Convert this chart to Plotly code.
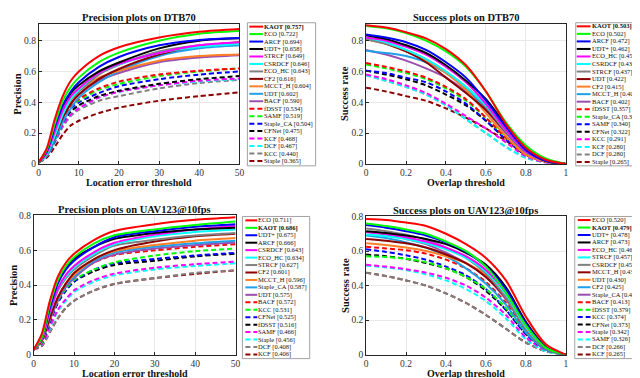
import plotly.graph_objects as go

W, H = 640, 378
SERIF = 'Liberation Serif'

# ---- data -------------------------------------------------------------
prec_thr = [0, 2, 4, 6, 8, 10, 15, 20, 30, 40, 50]
succ_thr = [0, 0.1, 0.2, 0.3, 0.4, 0.5, 0.6, 0.7, 0.8, 0.9, 1.0]

dtb_prec_names = ['KAOT', 'ECO', 'ARCF', 'UDT+', 'STRCF', 'CSRDCF', 'ECO_HC', 'CF2', 'MCCT_H', 'UDT', 'BACF',
                  'fDSST', 'SAMF', 'Staple_CA', 'CFNet', 'KCF', 'DCF', 'KCC', 'Staple']
dtb_prec_scores = [0.757, 0.722, 0.694, 0.658, 0.649, 0.646, 0.643, 0.616, 0.604, 0.602, 0.590,
                   0.534, 0.519, 0.504, 0.475, 0.468, 0.467, 0.440, 0.365]
dtb_prec_curves = [
    [0.01, 0.10, 0.29, 0.44, 0.54, 0.60, 0.70, 0.757, 0.82, 0.857, 0.875],
    [0.01, 0.09, 0.26, 0.41, 0.50, 0.56, 0.66, 0.722, 0.80, 0.845, 0.862],
    [0.01, 0.08, 0.24, 0.38, 0.47, 0.53, 0.63, 0.694, 0.77, 0.805, 0.818],
    [0.01, 0.09, 0.25, 0.38, 0.46, 0.51, 0.60, 0.658, 0.75, 0.800, 0.815],
    [0.01, 0.07, 0.21, 0.35, 0.44, 0.49, 0.59, 0.649, 0.72, 0.770, 0.790],
    [0.01, 0.06, 0.18, 0.32, 0.42, 0.48, 0.59, 0.646, 0.72, 0.760, 0.780],
    [0.01, 0.07, 0.20, 0.33, 0.42, 0.47, 0.58, 0.643, 0.73, 0.770, 0.785],
    [0.01, 0.06, 0.17, 0.30, 0.39, 0.45, 0.55, 0.616, 0.71, 0.765, 0.790],
    [0.01, 0.06, 0.18, 0.32, 0.41, 0.47, 0.56, 0.604, 0.67, 0.700, 0.710],
    [0.01, 0.05, 0.15, 0.27, 0.36, 0.43, 0.53, 0.602, 0.70, 0.750, 0.770],
    [0.01, 0.06, 0.17, 0.30, 0.39, 0.45, 0.54, 0.590, 0.66, 0.690, 0.705],
    [0.01, 0.06, 0.18, 0.30, 0.37, 0.42, 0.49, 0.534, 0.58, 0.605, 0.620],
    [0.01, 0.06, 0.18, 0.30, 0.37, 0.41, 0.48, 0.519, 0.57, 0.600, 0.620],
    [0.01, 0.06, 0.17, 0.29, 0.36, 0.40, 0.46, 0.504, 0.55, 0.580, 0.600],
    [0.01, 0.05, 0.15, 0.27, 0.34, 0.38, 0.44, 0.475, 0.52, 0.550, 0.570],
    [0.01, 0.05, 0.14, 0.25, 0.32, 0.36, 0.43, 0.468, 0.51, 0.540, 0.555],
    [0.01, 0.05, 0.14, 0.25, 0.32, 0.36, 0.43, 0.467, 0.51, 0.535, 0.550],
    [0.01, 0.05, 0.14, 0.24, 0.31, 0.35, 0.41, 0.440, 0.49, 0.525, 0.545],
    [0.01, 0.04, 0.11, 0.19, 0.25, 0.28, 0.33, 0.365, 0.41, 0.440, 0.465],
]

dtb_succ_names = ['KAOT', 'ECO', 'ARCF', 'UDT+', 'ECO_HC', 'CSRDCF', 'STRCF', 'UDT', 'CF2', 'MCCT_H', 'BACF',
                  'fDSST', 'Staple_CA', 'SAMF', 'CFNet', 'KCC', 'KCF', 'DCF', 'Staple']
dtb_succ_scores = [0.503, 0.502, 0.472, 0.462, 0.453, 0.438, 0.437, 0.422, 0.415, 0.405, 0.402,
                   0.357, 0.351, 0.340, 0.322, 0.291, 0.280, 0.280, 0.265]
dtb_succ_curves = [
    [0.900, 0.885, 0.855, 0.815, 0.745, 0.640, 0.470, 0.260, 0.105, 0.027, 0],
    [0.895, 0.880, 0.850, 0.800, 0.730, 0.630, 0.470, 0.270, 0.120, 0.035, 0],
    [0.840, 0.820, 0.790, 0.740, 0.660, 0.560, 0.410, 0.240, 0.090, 0.020, 0],
    [0.835, 0.810, 0.770, 0.720, 0.640, 0.540, 0.420, 0.250, 0.090, 0.020, 0],
    [0.820, 0.800, 0.760, 0.710, 0.630, 0.530, 0.390, 0.220, 0.080, 0.020, 0],
    [0.820, 0.790, 0.740, 0.680, 0.600, 0.500, 0.380, 0.220, 0.080, 0.020, 0],
    [0.810, 0.780, 0.740, 0.680, 0.600, 0.500, 0.370, 0.210, 0.080, 0.020, 0],
    [0.815, 0.780, 0.730, 0.660, 0.560, 0.460, 0.350, 0.210, 0.080, 0.020, 0],
    [0.810, 0.780, 0.730, 0.670, 0.590, 0.480, 0.330, 0.180, 0.060, 0.015, 0],
    [0.735, 0.720, 0.700, 0.660, 0.590, 0.490, 0.360, 0.210, 0.080, 0.020, 0],
    [0.740, 0.710, 0.670, 0.620, 0.560, 0.470, 0.350, 0.200, 0.070, 0.020, 0],
    [0.655, 0.630, 0.600, 0.560, 0.500, 0.420, 0.300, 0.170, 0.060, 0.015, 0],
    [0.645, 0.620, 0.590, 0.550, 0.490, 0.410, 0.300, 0.170, 0.060, 0.015, 0],
    [0.605, 0.590, 0.560, 0.530, 0.470, 0.390, 0.280, 0.160, 0.060, 0.015, 0],
    [0.605, 0.580, 0.550, 0.510, 0.450, 0.380, 0.280, 0.160, 0.060, 0.015, 0],
    [0.580, 0.550, 0.510, 0.460, 0.390, 0.310, 0.230, 0.140, 0.050, 0.010, 0],
    [0.575, 0.540, 0.500, 0.450, 0.380, 0.290, 0.200, 0.110, 0.040, 0.010, 0],
    [0.575, 0.540, 0.500, 0.450, 0.380, 0.290, 0.200, 0.110, 0.040, 0.010, 0],
    [0.495, 0.470, 0.440, 0.410, 0.360, 0.300, 0.230, 0.150, 0.060, 0.015, 0],
]

uav_prec_names = ['ECO', 'KAOT', 'UDT+', 'ARCF', 'CSRDCF', 'ECO_HC', 'STRCF', 'CF2', 'MCCT_H', 'Staple_CA', 'UDT',
                  'BACF', 'KCC', 'CFNet', 'fDSST', 'SAMF', 'Staple', 'DCF', 'KCF']
uav_prec_scores = [0.711, 0.686, 0.675, 0.666, 0.643, 0.634, 0.627, 0.601, 0.596, 0.587, 0.575,
                   0.572, 0.531, 0.525, 0.516, 0.466, 0.456, 0.408, 0.406]
uav_prec_curves = [
    [0.03, 0.12, 0.31, 0.45, 0.53, 0.58, 0.66, 0.711, 0.75, 0.775, 0.790],
    [0.03, 0.10, 0.29, 0.43, 0.51, 0.56, 0.64, 0.686, 0.72, 0.745, 0.765],
    [0.03, 0.10, 0.27, 0.41, 0.49, 0.54, 0.62, 0.675, 0.71, 0.735, 0.750],
    [0.03, 0.11, 0.28, 0.42, 0.50, 0.55, 0.62, 0.666, 0.70, 0.720, 0.730],
    [0.03, 0.09, 0.25, 0.38, 0.46, 0.51, 0.59, 0.643, 0.69, 0.720, 0.740],
    [0.03, 0.09, 0.25, 0.38, 0.45, 0.50, 0.58, 0.634, 0.68, 0.705, 0.720],
    [0.03, 0.09, 0.24, 0.37, 0.44, 0.49, 0.57, 0.627, 0.66, 0.685, 0.700],
    [0.03, 0.08, 0.21, 0.33, 0.41, 0.47, 0.55, 0.601, 0.65, 0.680, 0.695],
    [0.03, 0.08, 0.21, 0.33, 0.41, 0.46, 0.55, 0.596, 0.63, 0.655, 0.670],
    [0.03, 0.08, 0.21, 0.32, 0.40, 0.45, 0.54, 0.587, 0.62, 0.640, 0.655],
    [0.03, 0.08, 0.20, 0.31, 0.39, 0.44, 0.53, 0.575, 0.61, 0.630, 0.645],
    [0.03, 0.08, 0.21, 0.33, 0.41, 0.46, 0.53, 0.572, 0.60, 0.620, 0.635],
    [0.03, 0.07, 0.20, 0.31, 0.38, 0.43, 0.49, 0.531, 0.57, 0.595, 0.610],
    [0.03, 0.07, 0.19, 0.30, 0.37, 0.42, 0.49, 0.525, 0.55, 0.570, 0.585],
    [0.03, 0.07, 0.19, 0.30, 0.37, 0.42, 0.48, 0.516, 0.54, 0.565, 0.580],
    [0.03, 0.06, 0.16, 0.26, 0.32, 0.37, 0.43, 0.466, 0.50, 0.520, 0.535],
    [0.03, 0.06, 0.15, 0.25, 0.31, 0.36, 0.42, 0.456, 0.49, 0.510, 0.525],
    [0.03, 0.05, 0.13, 0.21, 0.27, 0.31, 0.37, 0.408, 0.44, 0.470, 0.485],
    [0.03, 0.05, 0.13, 0.21, 0.27, 0.31, 0.37, 0.406, 0.44, 0.465, 0.485],
]

uav_succ_names = ['ECO', 'KAOT', 'UDT+', 'ARCF', 'ECO_HC', 'STRCF', 'CSRDCF', 'MCCT_H', 'UDT', 'CF2', 'Staple_CA',
                  'BACF', 'fDSST', 'KCC', 'CFNet', 'Staple', 'SAMF', 'DCF', 'KCF']
uav_succ_scores = [0.520, 0.479, 0.478, 0.473, 0.462, 0.457, 0.450, 0.433, 0.430, 0.425, 0.420,
                   0.413, 0.379, 0.374, 0.373, 0.342, 0.326, 0.266, 0.265]
uav_succ_curves = [
    [0.785, 0.780, 0.765, 0.745, 0.700, 0.640, 0.560, 0.430, 0.220, 0.060, 0],
    [0.760, 0.745, 0.725, 0.700, 0.655, 0.600, 0.510, 0.360, 0.170, 0.040, 0],
    [0.750, 0.735, 0.715, 0.690, 0.650, 0.595, 0.510, 0.380, 0.180, 0.040, 0],
    [0.715, 0.705, 0.690, 0.670, 0.640, 0.590, 0.520, 0.390, 0.190, 0.045, 0],
    [0.710, 0.700, 0.680, 0.655, 0.620, 0.570, 0.490, 0.360, 0.170, 0.040, 0],
    [0.695, 0.685, 0.670, 0.645, 0.610, 0.560, 0.480, 0.350, 0.160, 0.040, 0],
    [0.730, 0.715, 0.695, 0.665, 0.620, 0.560, 0.470, 0.330, 0.150, 0.035, 0],
    [0.670, 0.660, 0.645, 0.620, 0.580, 0.530, 0.450, 0.330, 0.150, 0.035, 0],
    [0.645, 0.635, 0.620, 0.600, 0.570, 0.530, 0.460, 0.330, 0.150, 0.035, 0],
    [0.690, 0.675, 0.650, 0.620, 0.570, 0.500, 0.410, 0.290, 0.130, 0.030, 0],
    [0.710, 0.695, 0.670, 0.640, 0.590, 0.530, 0.450, 0.320, 0.150, 0.035, 0],
    [0.625, 0.615, 0.605, 0.585, 0.550, 0.500, 0.420, 0.300, 0.140, 0.035, 0],
    [0.570, 0.565, 0.555, 0.535, 0.500, 0.450, 0.380, 0.270, 0.130, 0.030, 0],
    [0.610, 0.595, 0.575, 0.550, 0.510, 0.460, 0.380, 0.260, 0.120, 0.030, 0],
    [0.580, 0.570, 0.555, 0.530, 0.500, 0.450, 0.370, 0.260, 0.120, 0.030, 0],
    [0.520, 0.510, 0.495, 0.475, 0.445, 0.400, 0.330, 0.230, 0.100, 0.025, 0],
    [0.515, 0.505, 0.490, 0.465, 0.430, 0.380, 0.310, 0.210, 0.090, 0.020, 0],
    [0.475, 0.455, 0.430, 0.400, 0.355, 0.300, 0.230, 0.150, 0.070, 0.020, 0],
    [0.475, 0.455, 0.430, 0.400, 0.355, 0.300, 0.230, 0.150, 0.070, 0.020, 0],
]

# ---- styles (same order for every panel) -------------------------------
line_colors = ['#FF0000', '#00FF00', '#0000FF', '#000000', '#FF00FF', '#00FFFF', '#808080', '#8B0000',
               '#FF7F27', '#1FA0E8', '#9A4FB0',
               '#FF0000', '#00FF00', '#0000FF', '#000000', '#FF00FF', '#00FFFF', '#808080', '#8B0000']
line_dashes = ['solid'] * 11 + ['5px,3px'] * 8


def px(x):
    return x / W


def py(y):
    return 1 - y / H


panels = [
    dict(title='Precision plots on DTB70', xtitle='Location error threshold', ytitle='Precision',
         names=dtb_prec_names, scores=dtb_prec_scores, curves=dtb_prec_curves, thr=prec_thr,
         box=(29, 232, 11, 155), yr=[0, 0.91], xr=[0, 50], xt=[0, 10, 20, 30, 40, 50], xty=174.5,
         leg=(240, 309, 10, 157, 14, 152), sw=(242, 256), tx=257),
    dict(title='Success plots on DTB70', xtitle='Overlap threshold', ytitle='Success rate',
         names=dtb_succ_names, scores=dtb_succ_scores, curves=dtb_succ_curves, thr=succ_thr,
         box=(360, 562, 11, 155), yr=[0, 0.91], xr=[0, 1], xt=[0, 0.2, 0.4, 0.6, 0.8, 1], xty=174.5,
         leg=(572, 639, 10, 157, 13.7, 153), sw=(573, 587), tx=588),
    dict(title='Precision plots on UAV123@10fps', xtitle='Location error threshold', ytitle='Precision',
         names=uav_prec_names, scores=uav_prec_scores, curves=uav_prec_curves, thr=prec_thr,
         box=(24, 228, 208, 351), yr=[0, 0.8], xr=[0, 50], xt=[0, 10, 20, 30, 40, 50], xty=370.5,
         leg=(235, 303, 209, 355, 213, 350.7), sw=(238, 250), tx=251),
    dict(title='Success plots on UAV123@10fps', xtitle='Overlap threshold', ytitle='Success rate',
         names=uav_succ_names, scores=uav_succ_scores, curves=uav_succ_curves, thr=succ_thr,
         box=(360, 562, 209, 351), yr=[0, 0.8], xr=[0, 1], xt=[0, 0.2, 0.4, 0.6, 0.8, 1], xty=370.5,
         leg=(571, 638, 209, 355, 212.7, 350.7), sw=(574, 587), tx=588),
]

fig = go.Figure()
shapes = []
annotations = []
layout = {}

for i, p in enumerate(panels):
    n = '' if i == 0 else str(i + 1)
    x0, x1, y0, y1 = p['box']
    axis_common = dict(showline=True, mirror=True, linecolor='#262626', linewidth=0.7,
                       ticks='inside', ticklen=3, tickcolor='#262626', showgrid=True,
                       gridcolor='#e8e8e8', gridwidth=0.6, zeroline=False,
                       tickfont=dict(family=SERIF, size=9.5, color='#333333'))
    layout['xaxis' + n] = dict(domain=[px(x0), px(x1)], anchor='y' + n, range=p['xr'],
                               tickvals=p['xt'], **axis_common)
    layout['yaxis' + n] = dict(domain=[py(y1), py(y0)], anchor='x' + n, range=p['yr'],
                               tickvals=[0, 0.2, 0.4, 0.6, 0.8], ticktext=['0', '0.2', '0.4', '0.6', '0.8'],
                               **axis_common)

    # draw in reverse so first legend entry sits on top
    for k in reversed(range(len(p['names']))):
        fig.add_trace(go.Scatter(x=p['thr'], y=p['curves'][k], mode='lines',
                                 line=dict(color=line_colors[k], width=2, dash=line_dashes[k], shape='spline',
                                           smoothing=0.8),
                                 xaxis='x' + n, yaxis='y' + n, showlegend=False, hoverinfo='skip'))

    cx = (x0 + x1) / 2
    annotations.append(dict(text='<b>%s</b>' % p['title'], x=px(cx), y=py(y0 - 6), xref='paper', yref='paper',
                            showarrow=False, xanchor='center', yanchor='middle', borderpad=0,
                            font=dict(family=SERIF, size=10.5, color='#111111')))
    annotations.append(dict(text='<b>%s</b>' % p['xtitle'], x=px(cx), y=py(p['xty']), xref='paper', yref='paper',
                            showarrow=False, xanchor='center', yanchor='middle', borderpad=0,
                            font=dict(family=SERIF, size=10, color='#111111')))
    annotations.append(dict(text='<b>%s</b>' % p['ytitle'], x=px(x0 - 21), y=py((y0 + y1) / 2), xref='paper',
                            yref='paper', showarrow=False, xanchor='center', yanchor='middle', textangle=-90,
                            borderpad=0, font=dict(family=SERIF, size=10.5, color='#111111')))

    # legend drawn by hand (plotly legend rows are too tall for 19 entries)
    lx0, lx1, ly0, ly1, r0, r1 = p['leg']
    shapes.append(dict(type='rect', xref='paper', yref='paper', x0=px(lx0), x1=px(lx1), y0=py(ly1), y1=py(ly0),
                       line=dict(color='#8c8c8c', width=0.8), fillcolor='white'))
    m = len(p['names'])
    step = (r1 - r0) / (m - 1)
    for k in range(m):
        ry = r0 + k * step
        shapes.append(dict(type='line', xref='paper', yref='paper', x0=px(p['sw'][0]), x1=px(p['sw'][1]),
                           y0=py(ry), y1=py(ry), line=dict(color=line_colors[k], width=2, dash=line_dashes[k])))
        label = '%s [%.3f]' % (p['names'][k], p['scores'][k])
        if p['names'][k] == 'KAOT':
            label = '<b>%s</b>' % label
        annotations.append(dict(text=label, x=px(p['tx']), y=py(ry), xref='paper', yref='paper',
                                showarrow=False, xanchor='left', yanchor='middle', borderpad=0, borderwidth=0,
                                font=dict(family=SERIF, size=6.5, color='#111111')))

fig.update_layout(width=W, height=H, margin=dict(l=0, r=0, t=0, b=0), plot_bgcolor='white',
                  paper_bgcolor='white', showlegend=False, shapes=shapes, annotations=annotations, **layout)

fig.write_html("out.html")
